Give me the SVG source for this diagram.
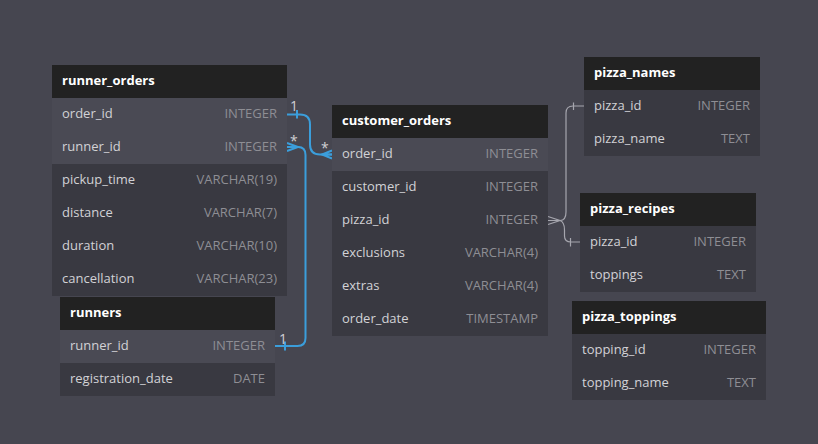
<svg xmlns="http://www.w3.org/2000/svg" width="818" height="444" viewBox="0 0 818 444">
<style>
.bg{fill:#464650}
.hd{fill:#222222}
.row{fill:#393941}
.hl{fill:#4a4a54}
.title{font-family:"Open Sans","DejaVu Sans",sans-serif;font-size:13px;font-weight:bold;fill:#ffffff}
.col{font-family:"Open Sans","DejaVu Sans",sans-serif;font-size:13px;fill:#d2d2d6}
.typ{font-family:"Open Sans","DejaVu Sans",sans-serif;font-size:13px;fill:#8e8e94;text-anchor:end}
.lbl{font-family:"Open Sans","DejaVu Sans",sans-serif;font-size:14px;fill:#d0d0d4}
.blue{fill:none;stroke:#3b9edb;stroke-width:2}
.gray{fill:none;stroke:#a6a6ae;stroke-width:1.2}
</style>
<rect class="bg" x="0" y="0" width="818" height="444"/>

<g id="connectors">
  <!-- runner_orders.order_id -> customer_orders.order_id -->
  <path class="blue" d="M287,114.5 H300 Q310,114.5 310,124.5 V144.5 Q310,154.5 320,154.5 H332"/>
  <line class="blue" x1="297" y1="110" x2="297" y2="118.5"/>
  <path class="blue" d="M332,150.5 L322,154.5 L332,158.5 M322,154.5 H332"/>
  <text class="lbl" x="290" y="111">1</text>
  <text class="lbl" x="321" y="153">*</text>
  <!-- runner_orders.runner_id -> runners.runner_id -->
  <path class="blue" d="M287,147 H298 Q305.5,147 305.5,155 V338 Q305.5,346 297.5,346 H275"/>
  <path class="blue" d="M287,143 L298,147 L287,151"/>
  <line class="blue" x1="285" y1="341.5" x2="285" y2="350.5"/>
  <text class="lbl" x="290" y="146">*</text>
  <text class="lbl" x="279" y="344">1</text>
  <!-- customer_orders.pizza_id -> pizza_names / pizza_recipes -->
  <path class="gray" d="M548,216.5 L560,220.5 L548,224.5 M548,220.5 H560"/>
  <path class="gray" d="M560,220.5 Q566,220.5 566,212 V113 Q566,106 573,106 H584"/>
  <path class="gray" d="M560,220.5 Q564.5,222 564.5,230 V236 Q564.5,242 571,242 H580"/>
  <line class="gray" x1="573.5" y1="102.5" x2="573.5" y2="110"/>
  <line class="gray" x1="570.5" y1="238" x2="570.5" y2="246.5"/>
</g>

<g id="runner_orders">
  <rect class="hd" x="52" y="65" width="235" height="33"/>
  <rect class="hl" x="52" y="98" width="235" height="66"/>
  <rect class="row" x="52" y="164" width="235" height="132"/>
  <text class="title" x="62" y="85">runner_orders</text>
  <text class="col" x="62" y="118">order_id</text><text class="typ" x="277" y="118">INTEGER</text>
  <text class="col" x="62" y="151">runner_id</text><text class="typ" x="277" y="151">INTEGER</text>
  <text class="col" x="62" y="184">pickup_time</text><text class="typ" x="277" y="184">VARCHAR(19)</text>
  <text class="col" x="62" y="217">distance</text><text class="typ" x="277" y="217">VARCHAR(7)</text>
  <text class="col" x="62" y="250">duration</text><text class="typ" x="277" y="250">VARCHAR(10)</text>
  <text class="col" x="62" y="283">cancellation</text><text class="typ" x="277" y="283">VARCHAR(23)</text>
</g>

<g id="runners">
  <rect class="hd" x="60" y="297" width="215" height="33"/>
  <rect class="hl" x="60" y="330" width="215" height="33"/>
  <rect class="row" x="60" y="363" width="215" height="33"/>
  <text class="title" x="70" y="317">runners</text>
  <text class="col" x="70" y="350">runner_id</text><text class="typ" x="265" y="350">INTEGER</text>
  <text class="col" x="70" y="383">registration_date</text><text class="typ" x="265" y="383">DATE</text>
</g>

<g id="customer_orders">
  <rect class="hd" x="332" y="105" width="216" height="33"/>
  <rect class="hl" x="332" y="138" width="216" height="33"/>
  <rect class="row" x="332" y="171" width="216" height="165"/>
  <text class="title" x="342" y="125">customer_orders</text>
  <text class="col" x="342" y="158">order_id</text><text class="typ" x="538" y="158">INTEGER</text>
  <text class="col" x="342" y="191">customer_id</text><text class="typ" x="538" y="191">INTEGER</text>
  <text class="col" x="342" y="224">pizza_id</text><text class="typ" x="538" y="224">INTEGER</text>
  <text class="col" x="342" y="257">exclusions</text><text class="typ" x="538" y="257">VARCHAR(4)</text>
  <text class="col" x="342" y="290">extras</text><text class="typ" x="538" y="290">VARCHAR(4)</text>
  <text class="col" x="342" y="323">order_date</text><text class="typ" x="538" y="323">TIMESTAMP</text>
</g>

<g id="pizza_names">
  <rect class="hd" x="584" y="57" width="176" height="33"/>
  <rect class="row" x="584" y="90" width="176" height="66"/>
  <text class="title" x="594" y="77">pizza_names</text>
  <text class="col" x="594" y="110">pizza_id</text><text class="typ" x="750" y="110">INTEGER</text>
  <text class="col" x="594" y="143">pizza_name</text><text class="typ" x="750" y="143">TEXT</text>
</g>

<g id="pizza_recipes">
  <rect class="hd" x="580" y="193" width="176" height="33"/>
  <rect class="row" x="580" y="226" width="176" height="66"/>
  <text class="title" x="590" y="213">pizza_recipes</text>
  <text class="col" x="590" y="246">pizza_id</text><text class="typ" x="746" y="246">INTEGER</text>
  <text class="col" x="590" y="279">toppings</text><text class="typ" x="746" y="279">TEXT</text>
</g>

<g id="pizza_toppings">
  <rect class="hd" x="572" y="301" width="194" height="33"/>
  <rect class="row" x="572" y="334" width="194" height="66"/>
  <text class="title" x="582" y="321">pizza_toppings</text>
  <text class="col" x="582" y="354">topping_id</text><text class="typ" x="756" y="354">INTEGER</text>
  <text class="col" x="582" y="387">topping_name</text><text class="typ" x="756" y="387">TEXT</text>
</g>
</svg>
